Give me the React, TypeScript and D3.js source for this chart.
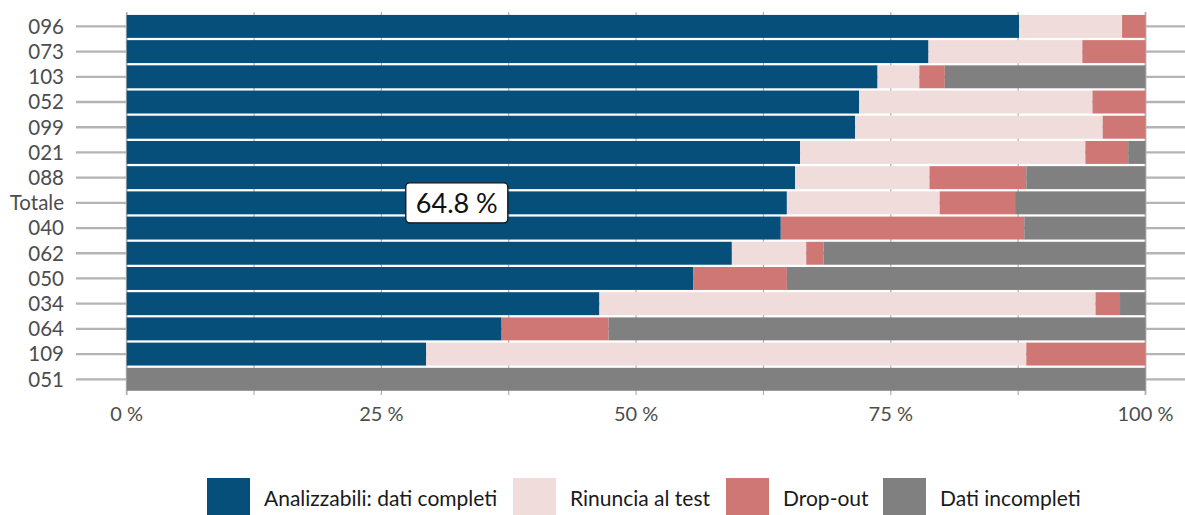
import React from "react";
import * as d3 from "d3";

const categories = ["096", "073", "103", "052", "099", "021", "088", "Totale", "040", "062", "050", "034", "064", "109", "051"];
const seriesNames = ["Analizzabili: dati completi", "Rinuncia al test", "Drop-out", "Dati incompleti"];
const analizzabili = [87.6, 78.7, 73.7, 71.9, 71.5, 66.1, 65.6, 64.8, 64.2, 59.4, 55.6, 46.4, 36.8, 29.4, 0];
const rinuncia = [10.1, 15.1, 4.1, 22.9, 24.3, 28.0, 13.2, 15.0, 0, 7.3, 0, 48.7, 0, 58.9, 0];
const dropout = [2.3, 6.2, 2.5, 5.2, 4.2, 4.2, 9.5, 7.4, 23.9, 1.7, 9.2, 2.4, 10.5, 11.7, 0];
const incompleti = [0, 0, 19.7, 0, 0, 1.7, 11.7, 12.8, 11.9, 31.6, 35.2, 2.5, 52.7, 0, 100];
const colors = ["#064F7B", "#F0DCDB", "#CE7774", "#808080"];
const xTicks = [0, 25, 50, 75, 100];
const gridTicks = [0, 12.5, 25, 37.5, 50, 62.5, 75, 87.5, 100];
const highlight = { category: "Totale", label: "64.8 %" };

const W = 1185;
const H = 515;
const FONT = "Lato, 'Noto Sans', sans-serif";

export default function App() {
  const x = d3.scaleLinear().domain([0, 100]).range([126.7, 1145.5]);
  const y = d3.scaleBand<string>().domain(categories).range([13.8, 391.9]).paddingInner(0.09).paddingOuter(0.045);

  const rows = categories.map((c, i) => ({
    cat: c,
    analizzabili: analizzabili[i],
    rinuncia: rinuncia[i],
    dropout: dropout[i],
    incompleti: incompleti[i],
  }));
  const keys = ["analizzabili", "rinuncia", "dropout", "incompleti"];
  const stack = d3.stack<any>().keys(keys)(rows);

  const hiIdx = categories.indexOf(highlight.category);
  const hiMid = x(analizzabili[hiIdx] / 2);
  const hiY = (y(highlight.category) as number) + y.bandwidth() / 2;

  const legendX = [207, 513, 726, 883];

  return (
    <svg width={W} height={H} style={{ position: "absolute", left: 0, top: 0, background: "#fff" }} fontFamily={FONT}>
      {gridTicks.map((t) => (
        <line key={"g" + t} x1={x(t)} x2={x(t)} y1={12} y2={395} stroke="#b0b0b0" strokeWidth={t === 100 || t === 0 ? 1.8 : 1.2} />
      ))}
      {categories.map((c) => {
        const cy = (y(c) as number) + y.bandwidth() / 2;
        return <line key={"h" + c} x1={76} x2={W} y1={cy} y2={cy} stroke="#b4b4b4" strokeWidth={2.3} />;
      })}
      {stack.map((layer, li) => (
        <g key={layer.key} fill={colors[li]}>
          {layer.map((d, i) =>
            d[1] - d[0] > 0 ? (
              <rect key={i} x={x(d[0])} width={x(d[1]) - x(d[0])} y={y(categories[i]) as number} height={y.bandwidth()} />
            ) : null
          )}
        </g>
      ))}
      {categories.map((c) => (
        <text key={"yl" + c} x={64} y={(y(c) as number) + y.bandwidth() / 2} dy="0.36em" textAnchor="end" fontSize={20.5} fill="#4d4d4d">
          {c}
        </text>
      ))}
      {xTicks.map((t) => (
        <text key={"xl" + t} x={x(t)} y={421} textAnchor="middle" fontSize={20} fill="#4d4d4d">
          {t + " %"}
        </text>
      ))}
      <rect x={hiMid - 51} y={hiY - 20} width={102} height={40} rx={4} fill="#fff" stroke="#111" strokeWidth={1.3} />
      <text x={hiMid} y={hiY} dy="0.36em" textAnchor="middle" fontSize={27} fill="#111">
        {highlight.label}
      </text>
      {seriesNames.map((s, i) => (
        <g key={"lg" + i}>
          <rect x={legendX[i]} y={478} width={43} height={43} fill={colors[i]} />
          <text x={legendX[i] + 57} y={498} dy="0.36em" fontSize={21} fill="#1a1a1a">
            {s}
          </text>
        </g>
      ))}
    </svg>
  );
}
